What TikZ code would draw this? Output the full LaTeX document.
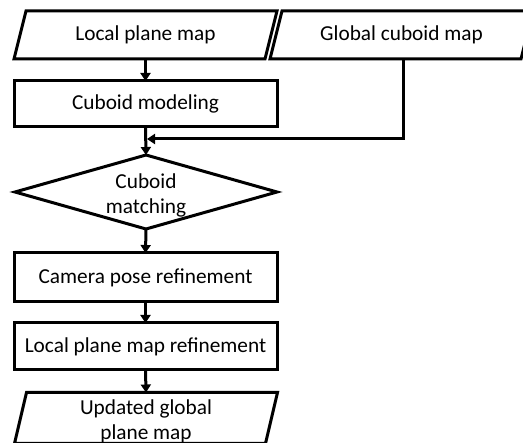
\documentclass[tikz,border=0pt]{standalone}
\usepackage{fontspec}
\setmainfont{Carlito}
\usetikzlibrary{arrows.meta,calc}
\begin{document}
\begin{tikzpicture}[x=1pt,y=-1pt,
  ln/.style={line width=3pt,line join=miter},
  txt/.style={font=\fontsize{21.3}{25.5}\selectfont,align=center,inner sep=0pt,outer sep=0pt},
  procbox/.style={txt,draw,line width=3pt,minimum width=263pt},
  iobox/.style={txt,minimum width=251pt},
  decbox/.style={txt,minimum width=262pt,minimum height=74pt},
  arr/.style={ln,-{Triangle[width=10pt,length=8pt]}}]
\useasboundingbox (0,0) rectangle (523,443);
% input / output nodes (parallelograms drawn from their anchors)
\node[iobox,minimum height=48pt] (lpm) at (145.5,35) {Local plane map};
\node[iobox,minimum height=48pt] (gcm) at (401.5,35) {Global cuboid map};
\node[procbox,minimum height=46pt] (cm) at (145.5,104) {Cuboid modeling};
\node[decbox] (match) at (146,192) {\raisebox{-4pt}[\height][\depth]{\begin{tabular}{@{}c@{}}Cuboid\\matching\end{tabular}}};
\node[procbox,minimum height=49pt] (cpr) at (145.5,277.5) {Camera pose refinement};
\node[procbox,minimum height=47pt] (lpr) at (145.5,346.5) {Local plane map refinement};
\node[iobox,minimum height=46pt] (ugpm) at (146,418) {\raisebox{-4pt}[\height][\depth]{\begin{tabular}{@{}c@{}}Updated global\\plane map\end{tabular}}};
\foreach \n in {lpm,gcm,ugpm}{
  \draw[ln] ([xshift=6pt]\n.north west) -- ([xshift=6pt]\n.north east)
    -- ([xshift=-6pt]\n.south east) -- ([xshift=-6pt]\n.south west) -- cycle;
}
\draw[ln] (match.west) -- (match.north) -- (match.east) -- (match.south) -- cycle;
% connectors
\coordinate (j) at (145.5,139);
\draw[arr] (lpm.south) -- (cm.north);
\draw[arr] (cm.south) -- (match.north);
\draw[arr] ([xshift=1.5pt]gcm.south) -- ([xshift=1.5pt]gcm.south |- j) -- ([xshift=1.5pt]j);
\draw[arr] (match.south) -- (cpr.north);
\draw[arr] (cpr.south) -- (lpr.north);
\draw[arr] (lpr.south) -- (ugpm.north);
\end{tikzpicture}
\end{document}
